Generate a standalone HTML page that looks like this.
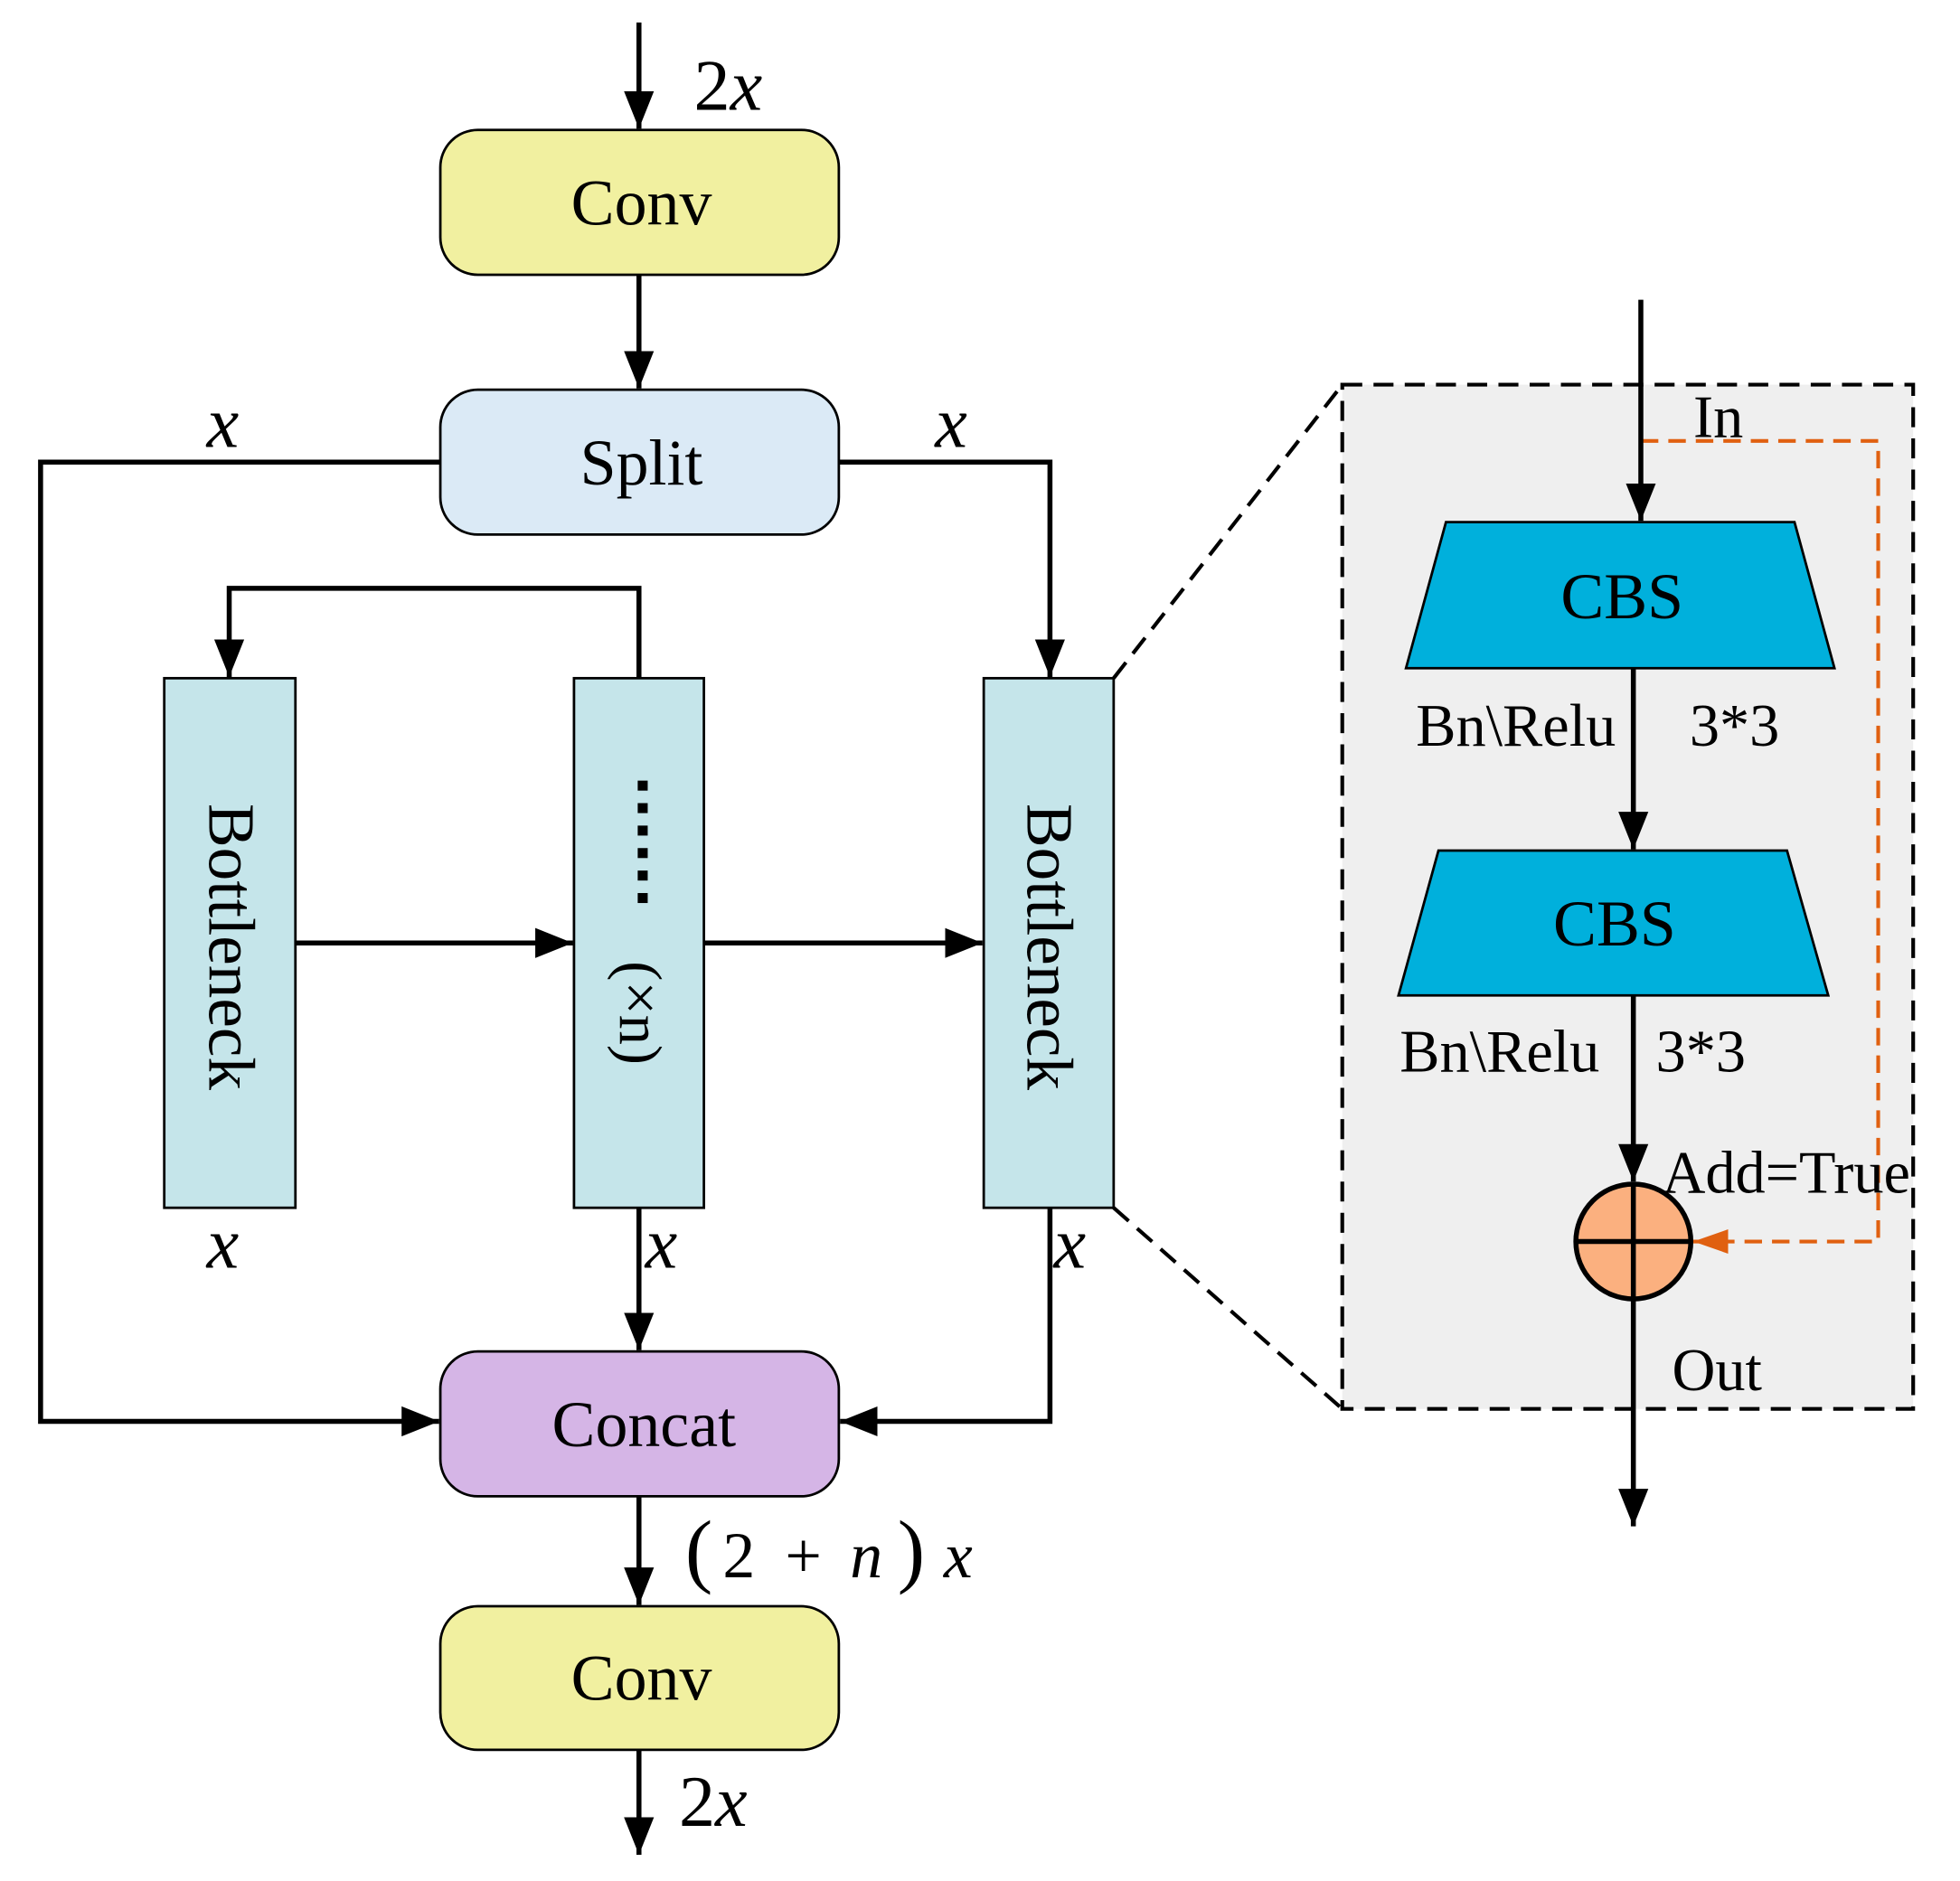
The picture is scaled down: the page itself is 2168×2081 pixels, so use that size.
<!DOCTYPE html>
<html><head><meta charset="utf-8"><style>
html,body{margin:0;padding:0;background:#fff}
svg{display:block}
text{font-family:"Liberation Serif",serif;fill:#000}
</style></head><body>
<svg width="2168" height="2081" viewBox="0 0 1568 1506" xmlns="http://www.w3.org/2000/svg">
<defs>
<marker id="ab" viewBox="0 0 10 10" refX="10" refY="5" markerWidth="30" markerHeight="30" markerUnits="userSpaceOnUse" orient="auto"><path d="M0,1L10,5L0,9z" fill="#000"/></marker>
<marker id="ao" viewBox="0 0 10 10" refX="10" refY="5" markerWidth="28" markerHeight="28" markerUnits="userSpaceOnUse" orient="auto"><path d="M0,1.5L10,5L0,8.5z" fill="#e06010"/></marker>
</defs>
<g stroke="#000" stroke-width="4" fill="none">
<line x1="511" y1="18" x2="511" y2="103" marker-end="url(#ab)"/>
<line x1="511" y1="220" x2="511" y2="311" marker-end="url(#ab)"/>
<polyline points="352,370 32,370 32,1138 351,1138" marker-end="url(#ab)"/>
<polyline points="671,370 840,370 840,542" marker-end="url(#ab)"/>
<polyline points="511,543 511,471 183,471 183,542" marker-end="url(#ab)"/>
<line x1="236" y1="755" x2="458" y2="755" marker-end="url(#ab)"/>
<line x1="563" y1="755" x2="786" y2="755" marker-end="url(#ab)"/>
<line x1="511" y1="967" x2="511" y2="1081" marker-end="url(#ab)"/>
<polyline points="840,967 840,1138 672,1138" marker-end="url(#ab)"/>
<line x1="511" y1="1198" x2="511" y2="1285" marker-end="url(#ab)"/>
<line x1="511" y1="1401" x2="511" y2="1485" marker-end="url(#ab)"/>
</g>
<g stroke="#000" stroke-width="2">
<rect x="352" y="104" width="319" height="116" rx="30" fill="#f1f0a0"/>
<rect x="352" y="312" width="319" height="116" rx="30" fill="#dbeaf6"/>
<rect x="352" y="1082" width="319" height="116" rx="30" fill="#d5b5e6"/>
<rect x="352" y="1286" width="319" height="115" rx="30" fill="#f1f0a0"/>
<rect x="131" y="543" width="105" height="424" fill="#c5e5ea"/>
<rect x="459" y="543" width="104" height="424" fill="#c5e5ea"/>
<rect x="787" y="543" width="104" height="424" fill="#c5e5ea"/>
</g>
<g font-size="52" text-anchor="middle">
<text x="513" y="180">Conv</text>
<text x="513" y="388">Split</text>
<text x="515" y="1158">Concat</text>
<text x="513" y="1361">Conv</text>
</g>
<g font-size="53">
<text transform="translate(167,758) rotate(90)" text-anchor="middle">Bottleneck</text>
<text transform="translate(822,758) rotate(90)" text-anchor="middle">Bottleneck</text>
<text transform="translate(496,811) rotate(90)" text-anchor="middle" font-size="48">(×n)</text>
</g>
<g fill="#000">
<rect x="510" y="625" width="8" height="8"/><rect x="510" y="643" width="8" height="8"/>
<rect x="510" y="661" width="8" height="8"/><rect x="510" y="679" width="8" height="8"/>
<rect x="510" y="697" width="8" height="8"/><rect x="510" y="715" width="8" height="8"/>
</g>
<g font-size="58" font-style="italic">
<text x="165" y="358">x</text>
<text x="748" y="358">x</text>
<text x="165" y="1015">x</text>
<text x="516" y="1015">x</text>
<text x="843" y="1015">x</text>
</g>
<text x="555" y="88" font-size="58">2<tspan font-style="italic">x</tspan></text>
<text x="543" y="1462" font-size="58">2<tspan font-style="italic">x</tspan></text>
<text y="1263" font-size="52"><tspan x="548" font-size="66">(</tspan><tspan x="578">2</tspan><tspan x="628">+</tspan><tspan x="680" font-style="italic">n</tspan><tspan x="718" font-size="66">)</tspan><tspan x="755" font-style="italic">x</tspan></text>
<rect x="1074" y="308" width="457" height="820" fill="#efefef" stroke="#000" stroke-width="3" stroke-dasharray="16,9"/>
<line x1="891" y1="543" x2="1074" y2="308" stroke="#000" stroke-width="3" stroke-dasharray="16,9"/>
<line x1="891" y1="967" x2="1074" y2="1128" stroke="#000" stroke-width="3" stroke-dasharray="16,9"/>
<polyline points="1313,353 1503,353 1503,994 1355,994" fill="none" stroke="#e06010" stroke-width="3" stroke-dasharray="14,8" marker-end="url(#ao)"/>
<g stroke="#000" stroke-width="4" fill="none">
<line x1="1313" y1="240" x2="1313" y2="417" marker-end="url(#ab)"/>
<line x1="1307" y1="535" x2="1307" y2="680" marker-end="url(#ab)"/>
<line x1="1307" y1="797" x2="1307" y2="946" marker-end="url(#ab)"/>
<line x1="1307" y1="1040" x2="1307" y2="1222" marker-end="url(#ab)"/>
</g>
<polygon points="1157,418 1436,418 1468,535 1125,535" fill="#00b0dc" stroke="#000" stroke-width="2"/>
<polygon points="1151,681 1430,681 1463,797 1119,797" fill="#00b0dc" stroke="#000" stroke-width="2"/>
<text x="1298" y="495" font-size="52" text-anchor="middle">CBS</text>
<text x="1292" y="757" font-size="52" text-anchor="middle">CBS</text>
<circle cx="1307" cy="994" r="46" fill="#fbb07f" stroke="#000" stroke-width="4"/>
<line x1="1261" y1="994" x2="1353" y2="994" stroke="#000" stroke-width="4"/>
<line x1="1307" y1="948" x2="1307" y2="1040" stroke="#000" stroke-width="4"/>
<g font-size="48">
<text x="1355" y="350">In</text>
<text x="1133" y="597">Bn\Relu</text><text x="1352" y="597">3*3</text>
<text x="1120" y="858">Bn\Relu</text><text x="1325" y="858">3*3</text>
<text x="1330" y="955">Add=True</text>
<text x="1338" y="1113">Out</text>
</g>
</svg>
</body></html>
